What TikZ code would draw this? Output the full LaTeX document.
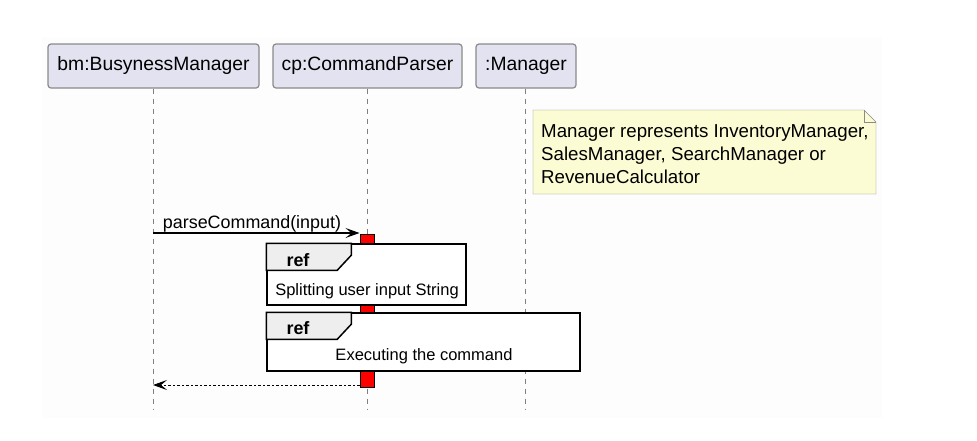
\documentclass[tikz,border=0pt]{standalone}
\usepackage{fontspec}
\setmainfont{Liberation Sans}
\usetikzlibrary{arrows.meta}
\definecolor{partfill}{HTML}{E2E2F0}
\definecolor{partline}{HTML}{8A8A8A}
\definecolor{notefill}{HTML}{FBFBD4}
\definecolor{tabfill}{HTML}{EEEEEE}
\definecolor{pagefill}{HTML}{FDFDFD}
\tikzset{
  participant/.style={draw=partline, fill=partfill, line width=1.2pt, rounded corners=3pt, minimum height=44pt, inner sep=0pt, font=\fontsize{19.3}{23}\selectfont},
  lifeline/.style={draw=gray, line width=1pt, dash pattern=on 5pt off 5pt},
  actbar/.style={draw=black, fill=red, line width=1pt, minimum width=14pt, minimum height=153pt, inner sep=0pt},
  msg/.style={-{Stealth[length=14pt,width=10pt,inset=6pt]}, line width=1.2pt},
  ret/.style={msg, line width=1pt, dash pattern=on 2.5pt off 2pt},
  refbox/.style={draw=black, fill=white, line width=1.5pt, inner sep=0pt},
  msgtext/.style={font=\fontsize{17.9}{23}\selectfont, inner sep=0pt, anchor=base},
  reftext/.style={font=\fontsize{16.5}{20}\selectfont, inner sep=0pt, anchor=base},
}
\begin{document}
\begin{tikzpicture}[x=1pt, y=-1pt]
\useasboundingbox (0,0) rectangle (977,440);
\fill[pagefill] (42,37) rectangle (882,418);
% participants
\node[participant, minimum width=211pt] (bm) at (153.5,66) {bm:BusynessManager};
\node[participant, minimum width=189pt] (cp) at (367.5,66) {cp:CommandParser};
\node[participant, minimum width=100pt] (mgr) at (526,66) {:Manager};
\coordinate (bmEnd) at (153,410); \coordinate (cpEnd) at (367,410); \coordinate (mgrEnd) at (525,410);
\draw[lifeline] (bm.south -| bmEnd) -- (bmEnd);
\draw[lifeline] (cp.south -| cpEnd) -- (cpEnd);
\draw[lifeline] (mgr.south -| mgrEnd) -- (mgrEnd);
% note
\draw[draw=partline, fill=notefill] (533,110) -- (864,110) -- (876,122) -- (876,194) -- (533,194) -- cycle;
\draw[draw=partline] (864,110) -- (864,122) -- (876,122);
\node[font=\fontsize{18.7}{23}\selectfont, align=left, anchor=base west, inner sep=0pt] (note) at (541,183)
  {Manager represents InventoryManager,\\SalesManager, SearchManager or\\RevenueCalculator};
% activation
\node[actbar] (act) at (367,310.5) {};
\coordinate (bmCall) at (153,233); \coordinate (bmRet) at (153,385);
\draw[msg] (bmCall) -- (bmCall -| act.west);
\node[msgtext] (call) at (252,228) {parseCommand(input)};
\draw[ret] (bmRet -| act.west) -- (bmRet);
% ref frames
\node[refbox, minimum width=199pt, minimum height=61pt] (ref1) at (366.5,274.5) {};
\draw[fill=tabfill, line width=1.5pt] (ref1.north west) -- ++(85,0) -- ++(0,12) -- ++(-14,15) -- ++(-71,0) -- cycle;
\node[msgtext] (ref1lbl) at (298,266) {\textbf{ref}};
\node[reftext] (ref1txt) at (367,295) {Splitting user input String};
\node[refbox, minimum width=313pt, minimum height=58pt] (ref2) at (423.5,342) {};
\draw[fill=tabfill, line width=1.5pt] (ref2.north west) -- ++(85,0) -- ++(0,12) -- ++(-14,15) -- ++(-71,0) -- cycle;
\node[msgtext] (ref2lbl) at (298,334) {\textbf{ref}};
\node[reftext] (ref2txt) at (424,360) {Executing the command};
\end{tikzpicture}
\end{document}
